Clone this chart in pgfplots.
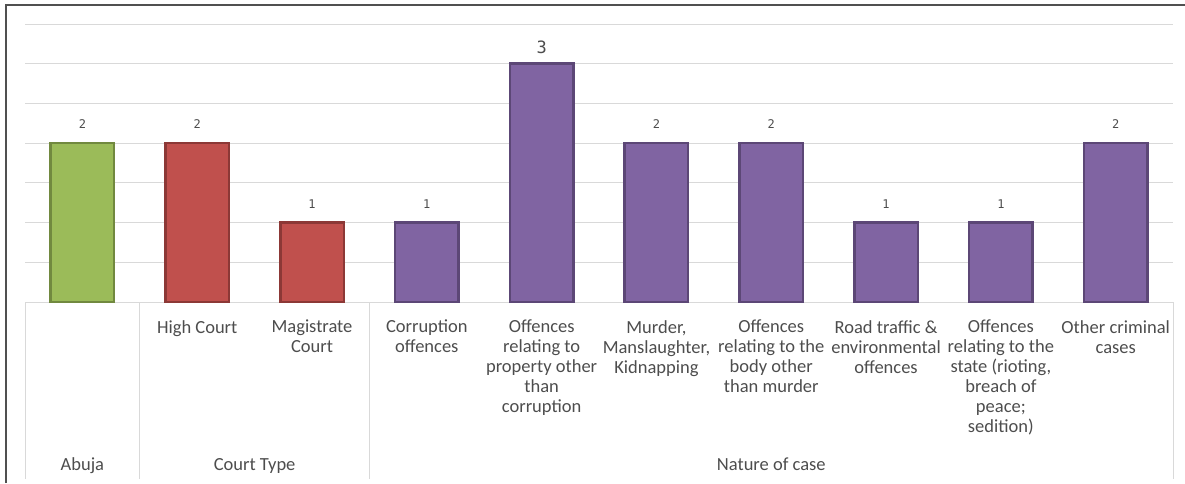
\documentclass[border=0pt]{standalone}
\usepackage{fontspec}
\setmainfont{Carlito}
\newfontfamily\monofont{DejaVu Sans Mono}
\usepackage{pgfplots}
\pgfplotsset{compat=1.18}
\definecolor{txt}{HTML}{4D4D4D}
\definecolor{gridc}{HTML}{D9D9D9}
\definecolor{gfill}{HTML}{9BBB59}
\definecolor{gline}{HTML}{71893F}
\definecolor{rfill}{HTML}{C0504D}
\definecolor{rline}{HTML}{8C3836}
\definecolor{pfill}{HTML}{8064A2}
\definecolor{pline}{HTML}{5C4776}
\definecolor{frame}{HTML}{505050}
\begin{document}
\begin{tikzpicture}[x=1pt,y=1pt]
\path[use as bounding box] (0,0) rectangle (1185,483);
\begin{axis}[
  at={(25pt,181pt)}, anchor=south west,
  scale only axis, width=1148pt, height=278pt,
  xmin=-0.5, xmax=9.5, ymin=0, ymax=3.5,
  ytick={0,0.5,...,3.5}, yticklabels={,,,,,,,,},
  ymajorgrids, grid style={gridc, line width=1pt},
  major tick length=0pt,
  axis x line*=bottom, axis y line*=left,
  x axis line style={gridc, line width=1pt, -},
  y axis line style={draw=none},
  xtick={0,...,9},
  xticklabels={{}, {High Court}, {Magistrate\\Court}, {Corruption\\offences},
    {Offences\\relating to\\property other\\than\\corruption},
    {Murder,\\Manslaughter,\\Kidnapping},
    {Offences\\relating to the\\body other\\than murder},
    {Road traffic \&\\environmental\\offences},
    {Offences\\relating to the\\state (rioting,\\breach of\\peace;\\sedition)},
    {Other criminal\\cases}},
  xticklabel style={font=\fontsize{18.5}{20}\selectfont, text=txt, align=center,
    anchor=north, inner sep=0pt, yshift=-18pt},
  ybar, bar shift=0pt, bar width=63.5pt,
  nodes near coords={\pgfmathprintnumber[assume math mode=true]{\pgfplotspointmeta}},
  nodes near coords style={font=\monofont\fontsize{12}{12}\selectfont, text=txt,
    anchor=south, inner sep=0pt, yshift=13pt},
  clip=false,
]
\addplot[fill=gfill, draw=gline, line width=2.5pt] coordinates {(0,2)};
\addplot[fill=rfill, draw=rline, line width=2.5pt] coordinates {(1,2) (2,1)};
\addplot[fill=pfill, draw=pline, line width=2.5pt] coordinates {(3,1) (5,2) (6,2) (7,1) (8,1) (9,2)};
\addplot[fill=pfill, draw=pline, line width=2.5pt,
  nodes near coords style={font=\monofont\fontsize{17}{17}\selectfont, yshift=-4pt}] coordinates {(4,3)};
\draw[gridc, line width=1pt] (axis cs:-0.5,0) -- ([yshift=-177pt]axis cs:-0.5,0);
\draw[gridc, line width=1pt] (axis cs:0.5,0) -- ([yshift=-177pt]axis cs:0.5,0);
\draw[gridc, line width=1pt] (axis cs:2.5,0) -- ([yshift=-177pt]axis cs:2.5,0);
\draw[gridc, line width=1pt] (axis cs:9.5,0) -- ([yshift=-177pt]axis cs:9.5,0);
\node[anchor=base, text=txt, font=\fontsize{18.5}{20}\selectfont, inner sep=0pt] at ([yshift=-168.5pt]axis cs:0,0) {Abuja};
\node[anchor=base, text=txt, font=\fontsize{18.5}{20}\selectfont, inner sep=0pt] at ([yshift=-168.5pt]axis cs:1.5,0) {Court Type};
\node[anchor=base, text=txt, font=\fontsize{18.5}{20}\selectfont, inner sep=0pt] at ([yshift=-168.5pt]axis cs:6,0) {Nature of case};
\end{axis}
\draw[frame, line width=2pt] (6,0) -- (6,477.5) -- (1185,477.5);
\end{tikzpicture}
\end{document}
